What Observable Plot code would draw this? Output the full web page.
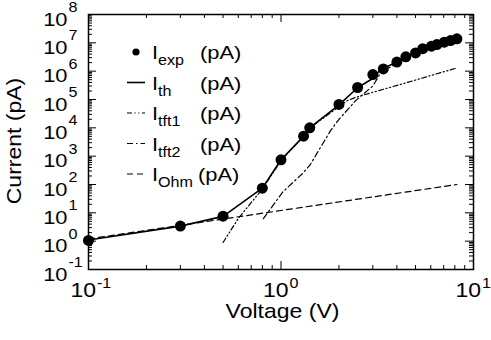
<!DOCTYPE html>
<html>
<head>
<meta charset="utf-8">
<script src="https://cdn.jsdelivr.net/npm/d3@7"></script>
<script src="https://cdn.jsdelivr.net/npm/@observablehq/plot@0.6"></script>
<style>
  html, body { margin: 0; padding: 0; background: #fff; }
  svg { display: block; }
</style>
</head>
<body>
<div id="chart"></div>
<script>
// ---- data ----
const expV = [0.1, 0.3, 0.5, 0.8, 1.0, 1.31, 1.41, 2.0, 2.5, 3.0, 3.4, 4.0, 4.45, 5.0, 5.45, 6.05, 6.45, 7.05, 7.6, 8.2];
const expI = [1.06, 3.4, 7.6, 74, 745, 5070, 1.0e4, 6.7e4, 2.65e5, 7.6e5, 1.2e6, 2.1e6, 3.2e6, 4.4e6, 6.2e6, 7.6e6, 8.7e6, 1.05e7, 1.2e7, 1.38e7];

const thV = [0.1, 0.3, 0.5, 0.8, 1.0, 1.31, 1.41, 2.0, 2.5, 2.95, 3.3, 4.0, 4.45, 5.0, 5.45, 6.05, 6.45, 7.05, 7.6, 8.2];
const thI = [1.1, 3.4, 7.5, 74, 745, 5000, 1.0e4, 6.5e4, 2.6e5, 5.2e5, 1.15e6, 2.1e6, 3.2e6, 4.4e6, 6.2e6, 7.6e6, 8.7e6, 1.05e7, 1.2e7, 1.38e7];

const tft1V = [0.5, 0.6, 0.8, 1.0, 1.3, 1.4, 1.7, 2.0, 2.2, 2.45, 3.0, 4.3, 6.0, 8.2];
const tft1I = [0.9, 6.3, 70, 700, 4800, 9500, 2.5e4, 5.5e4, 9.0e4, 1.2e5, 1.8e5, 3.6e5, 7.0e5, 1.3e6];

const tft2V = [0.81, 1.02, 1.29, 1.41, 1.81, 2.0, 2.45, 3.0, 3.3, 4.0, 4.45, 5.0, 5.45, 6.05, 6.45, 7.05, 7.6, 8.2];
const tft2I = [6.2, 54, 240, 470, 8.0e3, 2.0e4, 9.3e4, 3.0e5, 9.0e5, 1.9e6, 3.0e6, 4.2e6, 6.0e6, 7.4e6, 8.5e6, 1.02e7, 1.17e7, 1.35e7];

const ohmV = [0.1, 8.2];
const ohmI = [1.2, 100];

// tick labels (exponents of 10)
const xExps = [-1, 0, 1];
const yExps = [-1, 0, 1, 2, 3, 4, 5, 6, 7, 8];

const legendLabels = ["exp", "th", "tft1", "tft2", "Ohm"];
const unitLabel = "(pA)";
const xTitle = "Voltage (V)";
const yTitle = "Current (pA)";

// ---- styles ----
const dashTft1 = "5,2.5,1.2,2.5,1.2,2.5";
const dashTft2 = "6,3,1.5,3";
const dashOhm = "6,4";
const FONT = '"Liberation Sans", Arial, Helvetica, sans-serif';
const STRETCH = 1.15;

// ---- layout ----
const W = 491, H = 340;
const mL = 88, mR = 18, mT = 14, mB = 71;
const innerW = W - mL - mR, innerH = H - mT - mB;

const rows = (xs, ys) => xs.map((v, i) => ({V: v, I: ys[i]}));
const xMajor = xExps.map(e => 10 ** e);
const yMajor = yExps.map(e => 10 ** e);
const minorOf = exps => exps.slice(0, -1).flatMap(e => [2,3,4,5,6,7,8,9].map(m => m * 10 ** e));
const xMinor = minorOf(xExps);
const yMinor = minorOf(yExps);

const chart = Plot.plot({
  width: W, height: H,
  marginLeft: mL, marginRight: mR, marginTop: mT, marginBottom: mB,
  style: {fontFamily: FONT, background: "white", color: "black", overflow: "visible"},
  x: {type: "log", domain: [0.1, 10], axis: null},
  y: {type: "log", domain: [0.1, 1e8], axis: null},
  marks: [
    // ticks (inside, all four sides)
    Plot.tickX(xMajor, {x: d => d, insetTop: innerH - 8, stroke: "black", strokeWidth: 1}),
    Plot.tickX(xMajor, {x: d => d, insetBottom: innerH - 8, stroke: "black", strokeWidth: 1}),
    Plot.tickX(xMinor, {x: d => d, insetTop: innerH - 4, stroke: "black", strokeWidth: 1}),
    Plot.tickX(xMinor, {x: d => d, insetBottom: innerH - 4, stroke: "black", strokeWidth: 1}),
    Plot.tickY(yMajor, {y: d => d, insetRight: innerW - 8, stroke: "black", strokeWidth: 1}),
    Plot.tickY(yMajor, {y: d => d, insetLeft: innerW - 8, stroke: "black", strokeWidth: 1}),
    Plot.tickY(yMinor, {y: d => d, insetRight: innerW - 4, stroke: "black", strokeWidth: 1}),
    Plot.tickY(yMinor, {y: d => d, insetLeft: innerW - 4, stroke: "black", strokeWidth: 1}),

    // series
    Plot.line(rows(ohmV, ohmI), {x: "V", y: "I", stroke: "black", strokeWidth: 1.2, strokeDasharray: dashOhm}),
    Plot.line(rows(tft2V, tft2I), {x: "V", y: "I", stroke: "black", strokeWidth: 1.2, strokeDasharray: dashTft2}),
    Plot.line(rows(tft1V, tft1I), {x: "V", y: "I", stroke: "black", strokeWidth: 1.2, strokeDasharray: dashTft1}),
    Plot.line(rows(thV, thI), {x: "V", y: "I", stroke: "black", strokeWidth: 1.6}),
    Plot.dot(rows(expV, expI), {x: "V", y: "I", r: 5.5, fill: "black", stroke: "none"}),

    Plot.frame({stroke: "black", strokeWidth: 1.5}),

    // y tick labels 10^k
    Plot.text(yExps, {y: e => 10 ** e, frameAnchor: "left", text: () => "10", textAnchor: "end", dx: -21, dy: 5, fontSize: 19, fill: "black"}),
    Plot.text(yExps, {y: e => 10 ** e, frameAnchor: "left", text: e => String(e), textAnchor: "start", dx: -20, dy: -7, fontSize: 14, fill: "black"}),
    // x tick labels 10^k
    Plot.text(xExps, {x: e => 10 ** e, frameAnchor: "bottom", text: () => "10", textAnchor: "end", dx: 7.5, dy: 27, fontSize: 20, fill: "black"}),
    Plot.text(xExps, {x: e => 10 ** e, frameAnchor: "bottom", text: e => String(e), textAnchor: "start", dx: 8.5, dy: 18, fontSize: 14, fill: "black"}),
    // axis titles
    Plot.text([xTitle], {frameAnchor: "bottom", text: d => d, textAnchor: "middle", dx: 1.5, dy: 48, fontSize: 20, fill: "black"}),
    Plot.text([yTitle], {frameAnchor: "left", text: d => d, textAnchor: "middle", rotate: -90, dx: -74, dy: -1, fontSize: 20, fill: "black"})
  ]
});

document.getElementById("chart").appendChild(chart);

// widen glyphs along the reading direction, like the reference font
d3.select(chart).selectAll("text").each(function() {
  const t = this.getAttribute("transform");
  if (t) {
    this.setAttribute("transform", t + ` scale(${STRETCH},1)`);
  } else {
    const x = +this.getAttribute("x") || 0, y = +this.getAttribute("y") || 0;
    this.removeAttribute("x"); this.removeAttribute("y");
    this.setAttribute("transform", `translate(${x},${y}) scale(${STRETCH},1)`);
  }
});

// ---- legend (inside the frame, top-left) ----
const svg = d3.select(chart);
const lg = svg.append("g").attr("font-family", FONT).attr("fill", "black").attr("text-anchor", "start");
const dashes = [null, null, dashTft1, dashTft2, dashOhm];
legendLabels.forEach((lab, i) => {
  const y = 52 + i * 30.5;
  if (i === 0) {
    lg.append("circle").attr("cx", 136).attr("cy", y).attr("r", 3.6).attr("fill", "black");
  } else {
    lg.append("line")
      .attr("x1", 127).attr("x2", 145).attr("y1", y).attr("y2", y)
      .attr("stroke", "black").attr("stroke-width", i === 1 ? 1.6 : 1.2)
      .attr("stroke-dasharray", dashes[i]);
  }
  const t = lg.append("text")
    .attr("text-anchor", "start")
    .attr("transform", `translate(152,${y + 7}) scale(${STRETCH},1)`)
    .attr("font-size", 19);
  t.append("tspan").text("I");
  t.append("tspan").attr("font-size", 14).attr("dy", 6).text(lab);
  lg.append("text")
    .attr("text-anchor", "start")
    .attr("transform", `translate(${lab === "Ohm" ? 198 : 200},${y + 7}) scale(${STRETCH},1)`)
    .attr("font-size", 19)
    .text(unitLabel);
});
</script>
</body>
</html>
